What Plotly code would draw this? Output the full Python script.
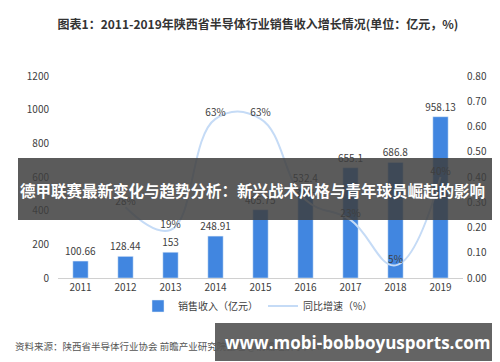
import plotly.graph_objects as go

years = ["2011", "2012", "2013", "2014", "2015", "2016", "2017", "2018", "2019"]
revenue = [100.66, 128.44, 153, 248.91, 405.75, 532.4, 655.1, 686.8, 958.13]
growth = [None, 0.28, 0.19, 0.63, 0.63, 0.31, 0.23, 0.05, 0.40]
growth_labels = ["", "28%", "19%", "63%", "63%", "31%", "23%", "5%", "40%"]

title = "图表1：2011-2019年陕西省半导体行业销售收入增长情况(单位：亿元，%)"
banner = "德甲联赛最新变化与趋势分析：新兴战术风格与青年球员崛起的影响"
source = "资料来源：陕西省半导体行业协会 前瞻产业研究院整理 @前瞻经济学人APP"
url = "www.mobi-bobboyusports.com"

W, H = 500, 362
L, R, T, B = 50, 45, 68, 92
PW, PH = W - L - R, H - T - B

def px(x):
    return (x - L) / PW

def py(y):
    return (H - B - y) / PH

CJK = "Noto Sans CJK SC, Liberation Sans, sans-serif"

fig = go.Figure()
fig.add_trace(go.Bar(
    x=years, y=revenue, name="销售收入（亿元）",
    marker=dict(color="#4186e0"), width=0.34,
    text=[f"{v:g}" for v in revenue], textposition="outside", constraintext="none",
    textfont=dict(size=10, color="#404040"), cliponaxis=False,
))
fig.add_trace(go.Scatter(
    x=years, y=growth, name="同比增速（%）", yaxis="y2",
    mode="lines+text", line=dict(color="#c5dbf6", width=2, shape="spline", smoothing=1.2),
    text=growth_labels, textposition="top center",
    textfont=dict(size=10, color="#404040"), cliponaxis=False,
))

shapes = [
    dict(type="rect", xref="paper", yref="paper", x0=px(10), x1=px(492), y0=py(212), y1=py(150),
         fillcolor="rgba(62,62,62,0.85)", line=dict(width=0), layer="above"),
    dict(type="rect", xref="paper", yref="paper", x0=px(207), x1=px(490), y0=py(353), y1=py(315),
         fillcolor="#646464", line=dict(width=0), layer="above"),
]

annotations = [
    dict(text=source, xref="paper", yref="paper", x=px(5), y=py(338), xanchor="left", yanchor="middle",
         showarrow=False, font=dict(size=9.5, color="#555555", family=CJK)),
    dict(text=f"<b>{banner}</b>", xref="paper", yref="paper", x=px(10), y=py(182), xanchor="left",
         yanchor="middle", showarrow=False, font=dict(size=15.5, color="white", family=CJK)),
    dict(text=f"<b>{url}</b>", xref="paper", yref="paper", x=px(349), y=py(334), xanchor="center",
         yanchor="middle", showarrow=False, font=dict(size=17, color="white", family="Open Sans, sans-serif")),
]

fig.update_layout(
    width=W, height=H,
    margin=dict(l=L, r=R, t=T, b=B),
    paper_bgcolor="white", plot_bgcolor="white",
    font=dict(family=CJK, size=10, color="#404040"),
    title=dict(text=f"<b>{title}</b>", x=0.5, xanchor="center", y=1 - 17 / H, yanchor="middle",
               font=dict(size=12, color="#333333", family=CJK)),
    xaxis=dict(showline=True, linecolor="#d0d0d0", linewidth=1, ticks="", showgrid=False,
               tickfont=dict(size=10, color="#404040")),
    yaxis=dict(range=[0, 1200], dtick=200, showgrid=False, zeroline=False, showline=False,
               tickfont=dict(size=10, color="#404040"), ticklabelstandoff=8),
    yaxis2=dict(range=[0, 0.8], dtick=0.1, tickformat=".2f", overlaying="y", side="right",
                showgrid=False, zeroline=False, showline=False,
                tickfont=dict(size=10, color="#404040"), ticklabelstandoff=3),
    legend=dict(orientation="h", x=px(250), xanchor="center", y=py(298), yanchor="middle",
                font=dict(size=10, color="#404040", family=CJK), itemwidth=30),
    bargap=0.6,
    shapes=shapes, annotations=annotations,
)

fig.write_html("out.html")
